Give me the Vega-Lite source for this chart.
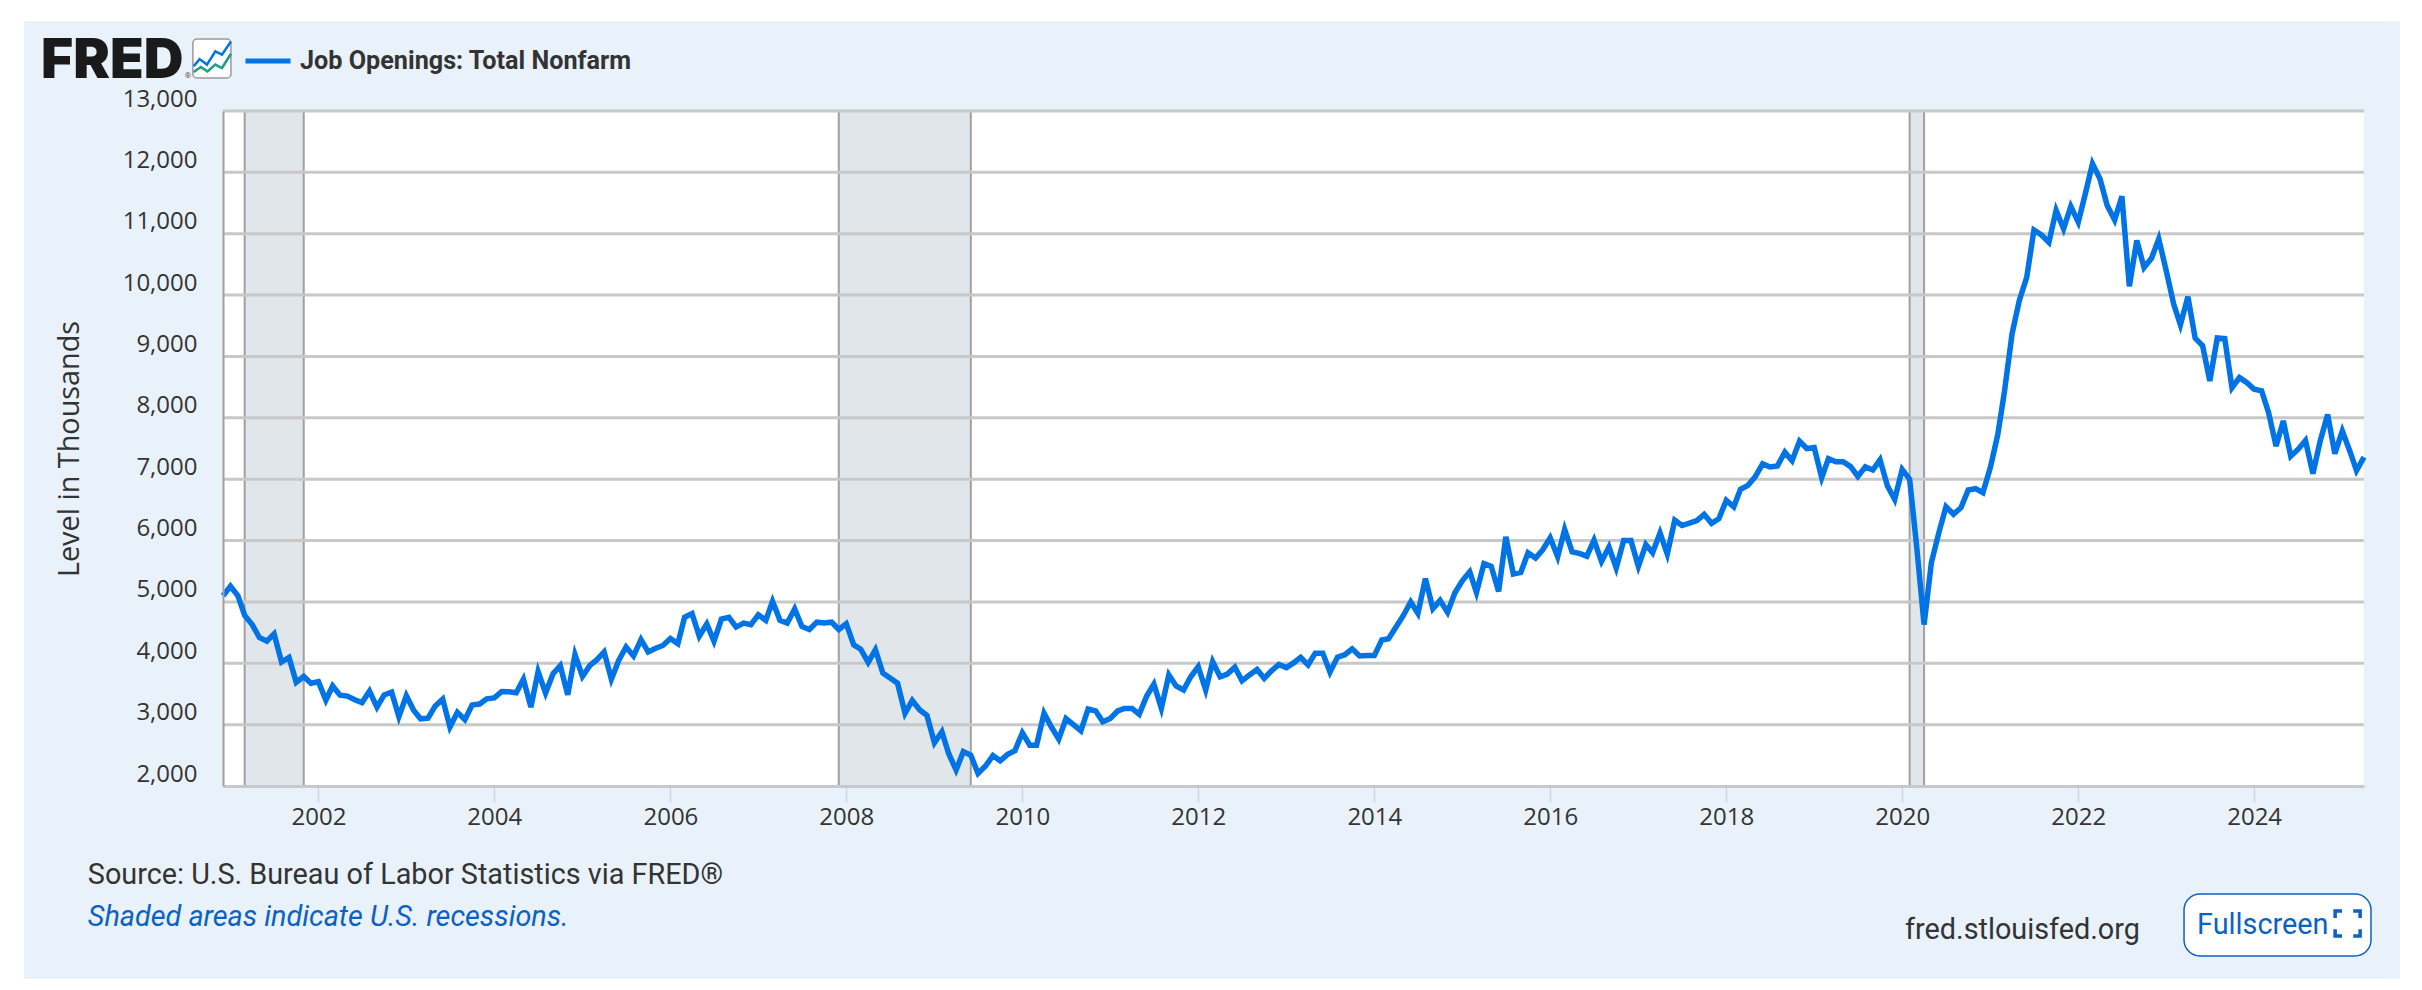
{
  "$schema": "https://vega.github.io/schema/vega-lite/v6.json",
  "width": 2141,
  "height": 675,
  "autosize": {"type": "none"},
  "padding": {"left": 223, "top": 111, "right": 58, "bottom": 204},
  "background": "white",
  "config": {"view": {"stroke": null}},
  "datasets": {
    "recessions": [
      {"start": "2001-03-01", "end": "2001-11-01"},
      {"start": "2007-12-01", "end": "2009-06-01"},
      {"start": "2020-02-01", "end": "2020-04-01"}
    ],
    "gridlines": [
      {"level": 3000}, {"level": 4000}, {"level": 5000}, {"level": 6000}, {"level": 7000},
      {"level": 8000}, {"level": 9000}, {"level": 10000}, {"level": 11000}, {"level": 12000}, {"level": 13000}
    ],
    "openings": [
      {"date":"2000-12-01","value":5100},
      {"date":"2001-01-01","value":5255},{"date":"2001-02-01","value":5100},{"date":"2001-03-01","value":4780},{"date":"2001-04-01","value":4630},{"date":"2001-05-01","value":4420},{"date":"2001-06-01","value":4360},{"date":"2001-07-01","value":4480},{"date":"2001-08-01","value":4020},{"date":"2001-09-01","value":4095},{"date":"2001-10-01","value":3690},{"date":"2001-11-01","value":3785},{"date":"2001-12-01","value":3675},
      {"date":"2002-01-01","value":3700},{"date":"2002-02-01","value":3400},{"date":"2002-03-01","value":3630},{"date":"2002-04-01","value":3480},{"date":"2002-05-01","value":3465},{"date":"2002-06-01","value":3405},{"date":"2002-07-01","value":3360},{"date":"2002-08-01","value":3545},{"date":"2002-09-01","value":3285},{"date":"2002-10-01","value":3485},{"date":"2002-11-01","value":3530},{"date":"2002-12-01","value":3130},
      {"date":"2003-01-01","value":3470},{"date":"2003-02-01","value":3230},{"date":"2003-03-01","value":3095},{"date":"2003-04-01","value":3105},{"date":"2003-05-01","value":3305},{"date":"2003-06-01","value":3415},{"date":"2003-07-01","value":2960},{"date":"2003-08-01","value":3200},{"date":"2003-09-01","value":3080},{"date":"2003-10-01","value":3320},{"date":"2003-11-01","value":3335},{"date":"2003-12-01","value":3420},
      {"date":"2004-01-01","value":3435},{"date":"2004-02-01","value":3540},{"date":"2004-03-01","value":3535},{"date":"2004-04-01","value":3520},{"date":"2004-05-01","value":3740},{"date":"2004-06-01","value":3285},{"date":"2004-07-01","value":3865},{"date":"2004-08-01","value":3515},{"date":"2004-09-01","value":3830},{"date":"2004-10-01","value":3960},{"date":"2004-11-01","value":3485},{"date":"2004-12-01","value":4140},
      {"date":"2005-01-01","value":3785},{"date":"2005-02-01","value":3965},{"date":"2005-03-01","value":4055},{"date":"2005-04-01","value":4185},{"date":"2005-05-01","value":3740},{"date":"2005-06-01","value":4050},{"date":"2005-07-01","value":4265},{"date":"2005-08-01","value":4120},{"date":"2005-09-01","value":4385},{"date":"2005-10-01","value":4185},{"date":"2005-11-01","value":4245},{"date":"2005-12-01","value":4290},
      {"date":"2006-01-01","value":4405},{"date":"2006-02-01","value":4320},{"date":"2006-03-01","value":4750},{"date":"2006-04-01","value":4810},{"date":"2006-05-01","value":4440},{"date":"2006-06-01","value":4640},{"date":"2006-07-01","value":4360},{"date":"2006-08-01","value":4720},{"date":"2006-09-01","value":4750},{"date":"2006-10-01","value":4590},{"date":"2006-11-01","value":4655},{"date":"2006-12-01","value":4630},
      {"date":"2007-01-01","value":4790},{"date":"2007-02-01","value":4700},{"date":"2007-03-01","value":5010},{"date":"2007-04-01","value":4700},{"date":"2007-05-01","value":4655},{"date":"2007-06-01","value":4885},{"date":"2007-07-01","value":4600},{"date":"2007-08-01","value":4550},{"date":"2007-09-01","value":4670},{"date":"2007-10-01","value":4655},{"date":"2007-11-01","value":4670},{"date":"2007-12-01","value":4550},
      {"date":"2008-01-01","value":4645},{"date":"2008-02-01","value":4300},{"date":"2008-03-01","value":4230},{"date":"2008-04-01","value":4015},{"date":"2008-05-01","value":4220},{"date":"2008-06-01","value":3840},{"date":"2008-07-01","value":3760},{"date":"2008-08-01","value":3675},{"date":"2008-09-01","value":3185},{"date":"2008-10-01","value":3395},{"date":"2008-11-01","value":3240},{"date":"2008-12-01","value":3150},
      {"date":"2009-01-01","value":2705},{"date":"2009-02-01","value":2885},{"date":"2009-03-01","value":2530},{"date":"2009-04-01","value":2260},{"date":"2009-05-01","value":2560},{"date":"2009-06-01","value":2500},{"date":"2009-07-01","value":2205},{"date":"2009-08-01","value":2325},{"date":"2009-09-01","value":2495},{"date":"2009-10-01","value":2410},{"date":"2009-11-01","value":2515},{"date":"2009-12-01","value":2575},
      {"date":"2010-01-01","value":2867},{"date":"2010-02-01","value":2665},{"date":"2010-03-01","value":2665},{"date":"2010-04-01","value":3185},{"date":"2010-05-01","value":2965},{"date":"2010-06-01","value":2765},{"date":"2010-07-01","value":3100},{"date":"2010-08-01","value":3000},{"date":"2010-09-01","value":2900},{"date":"2010-10-01","value":3255},{"date":"2010-11-01","value":3225},{"date":"2010-12-01","value":3045},
      {"date":"2011-01-01","value":3100},{"date":"2011-02-01","value":3225},{"date":"2011-03-01","value":3265},{"date":"2011-04-01","value":3265},{"date":"2011-05-01","value":3170},{"date":"2011-06-01","value":3465},{"date":"2011-07-01","value":3660},{"date":"2011-08-01","value":3265},{"date":"2011-09-01","value":3810},{"date":"2011-10-01","value":3630},{"date":"2011-11-01","value":3565},{"date":"2011-12-01","value":3780},
      {"date":"2012-01-01","value":3945},{"date":"2012-02-01","value":3565},{"date":"2012-03-01","value":4025},{"date":"2012-04-01","value":3780},{"date":"2012-05-01","value":3825},{"date":"2012-06-01","value":3935},{"date":"2012-07-01","value":3715},{"date":"2012-08-01","value":3810},{"date":"2012-09-01","value":3900},{"date":"2012-10-01","value":3755},{"date":"2012-11-01","value":3880},{"date":"2012-12-01","value":3980},
      {"date":"2013-01-01","value":3930},{"date":"2013-02-01","value":4010},{"date":"2013-03-01","value":4095},{"date":"2013-04-01","value":3975},{"date":"2013-05-01","value":4165},{"date":"2013-06-01","value":4165},{"date":"2013-07-01","value":3855},{"date":"2013-08-01","value":4100},{"date":"2013-09-01","value":4140},{"date":"2013-10-01","value":4235},{"date":"2013-11-01","value":4120},{"date":"2013-12-01","value":4125},
      {"date":"2014-01-01","value":4125},{"date":"2014-02-01","value":4380},{"date":"2014-03-01","value":4400},{"date":"2014-04-01","value":4590},{"date":"2014-05-01","value":4775},{"date":"2014-06-01","value":5000},{"date":"2014-07-01","value":4815},{"date":"2014-08-01","value":5380},{"date":"2014-09-01","value":4890},{"date":"2014-10-01","value":5025},{"date":"2014-11-01","value":4830},{"date":"2014-12-01","value":5145},
      {"date":"2015-01-01","value":5345},{"date":"2015-02-01","value":5490},{"date":"2015-03-01","value":5155},{"date":"2015-04-01","value":5625},{"date":"2015-05-01","value":5580},{"date":"2015-06-01","value":5170},{"date":"2015-07-01","value":6060},{"date":"2015-08-01","value":5455},{"date":"2015-09-01","value":5480},{"date":"2015-10-01","value":5800},{"date":"2015-11-01","value":5715},{"date":"2015-12-01","value":5850},
      {"date":"2016-01-01","value":6045},{"date":"2016-02-01","value":5735},{"date":"2016-03-01","value":6180},{"date":"2016-04-01","value":5815},{"date":"2016-05-01","value":5790},{"date":"2016-06-01","value":5745},{"date":"2016-07-01","value":6005},{"date":"2016-08-01","value":5660},{"date":"2016-09-01","value":5895},{"date":"2016-10-01","value":5555},{"date":"2016-11-01","value":6000},{"date":"2016-12-01","value":6000},
      {"date":"2017-01-01","value":5580},{"date":"2017-02-01","value":5935},{"date":"2017-03-01","value":5800},{"date":"2017-04-01","value":6125},{"date":"2017-05-01","value":5780},{"date":"2017-06-01","value":6330},{"date":"2017-07-01","value":6245},{"date":"2017-08-01","value":6285},{"date":"2017-09-01","value":6325},{"date":"2017-10-01","value":6425},{"date":"2017-11-01","value":6280},{"date":"2017-12-01","value":6355},
      {"date":"2018-01-01","value":6655},{"date":"2018-02-01","value":6550},{"date":"2018-03-01","value":6835},{"date":"2018-04-01","value":6900},{"date":"2018-05-01","value":7040},{"date":"2018-06-01","value":7250},{"date":"2018-07-01","value":7200},{"date":"2018-08-01","value":7215},{"date":"2018-09-01","value":7440},{"date":"2018-10-01","value":7300},{"date":"2018-11-01","value":7620},{"date":"2018-12-01","value":7500},
      {"date":"2019-01-01","value":7515},{"date":"2019-02-01","value":7025},{"date":"2019-03-01","value":7335},{"date":"2019-04-01","value":7285},{"date":"2019-05-01","value":7285},{"date":"2019-06-01","value":7205},{"date":"2019-07-01","value":7045},{"date":"2019-08-01","value":7200},{"date":"2019-09-01","value":7150},{"date":"2019-10-01","value":7315},{"date":"2019-11-01","value":6890},{"date":"2019-12-01","value":6670},
      {"date":"2020-01-01","value":7160},{"date":"2020-02-01","value":7000},{"date":"2020-03-01","value":5910},{"date":"2020-04-01","value":4630},{"date":"2020-05-01","value":5635},{"date":"2020-06-01","value":6125},{"date":"2020-07-01","value":6550},{"date":"2020-08-01","value":6430},{"date":"2020-09-01","value":6535},{"date":"2020-10-01","value":6825},{"date":"2020-11-01","value":6845},{"date":"2020-12-01","value":6780},
      {"date":"2021-01-01","value":7190},{"date":"2021-02-01","value":7730},{"date":"2021-03-01","value":8440},{"date":"2021-04-01","value":9365},{"date":"2021-05-01","value":9910},{"date":"2021-06-01","value":10290},{"date":"2021-07-01","value":11060},{"date":"2021-08-01","value":10980},{"date":"2021-09-01","value":10860},{"date":"2021-10-01","value":11380},{"date":"2021-11-01","value":11080},{"date":"2021-12-01","value":11445},
      {"date":"2022-01-01","value":11190},{"date":"2022-02-01","value":11680},{"date":"2022-03-01","value":12140},{"date":"2022-04-01","value":11895},{"date":"2022-05-01","value":11460},{"date":"2022-06-01","value":11225},{"date":"2022-07-01","value":11610},{"date":"2022-08-01","value":10145},{"date":"2022-09-01","value":10890},{"date":"2022-10-01","value":10450},{"date":"2022-11-01","value":10600},{"date":"2022-12-01","value":10915},
      {"date":"2023-01-01","value":10400},{"date":"2023-02-01","value":9855},{"date":"2023-03-01","value":9515},{"date":"2023-04-01","value":9975},{"date":"2023-05-01","value":9300},{"date":"2023-06-01","value":9175},{"date":"2023-07-01","value":8600},{"date":"2023-08-01","value":9300},{"date":"2023-09-01","value":9290},{"date":"2023-10-01","value":8490},{"date":"2023-11-01","value":8655},{"date":"2023-12-01","value":8575},
      {"date":"2024-01-01","value":8465},{"date":"2024-02-01","value":8440},{"date":"2024-03-01","value":8085},{"date":"2024-04-01","value":7540},{"date":"2024-05-01","value":7950},{"date":"2024-06-01","value":7375},{"date":"2024-07-01","value":7485},{"date":"2024-08-01","value":7630},{"date":"2024-09-01","value":7090},{"date":"2024-10-01","value":7620},{"date":"2024-11-01","value":8055},{"date":"2024-12-01","value":7415},
      {"date":"2025-01-01","value":7785},{"date":"2025-02-01","value":7460},{"date":"2025-03-01","value":7140},{"date":"2025-04-01","value":7360}
    ]
  },
  "layer": [
    {
      "data": {"values": [{"item": "panel"}]},
      "mark": {"type": "rect", "color": "#e9f1fb"},
      "encoding": {
        "x": {"datum": {"year": 1998, "month": 8, "date": 28}, "type": "temporal"},
        "x2": {"datum": {"year": 2025, "month": 8, "date": 28}},
        "y": {"datum": 14467, "type": "quantitative"},
        "y2": {"datum": -1145}
      }
    },
    {
      "data": {"values": [{"item": "plot"}]},
      "mark": {"type": "rect", "color": "white"},
      "encoding": {
        "x": {"datum": {"year": 2000, "month": 12, "date": 1}, "type": "temporal"},
        "x2": {"datum": {"year": 2025, "month": 4, "date": 1}},
        "y": {"datum": 2000, "type": "quantitative"},
        "y2": {"datum": 13000}
      }
    },
    {
      "data": {"name": "recessions"},
      "mark": {"type": "rect", "color": "#e1e6eb"},
      "encoding": {
        "x": {"field": "start", "type": "temporal"},
        "x2": {"field": "end"}
      }
    },
    {
      "data": {"name": "recessions"},
      "mark": {"type": "rule", "color": "#a0a0a0", "strokeWidth": 2},
      "encoding": {"x": {"field": "start", "type": "temporal"}}
    },
    {
      "data": {"name": "recessions"},
      "mark": {"type": "rule", "color": "#a0a0a0", "strokeWidth": 2},
      "encoding": {"x": {"field": "end", "type": "temporal"}}
    },
    {
      "data": {"name": "gridlines"},
      "mark": {"type": "rule", "color": "#c8c8c8", "strokeWidth": 3},
      "encoding": {"y": {"field": "level", "type": "quantitative"}}
    },
    {
      "data": {"name": "openings"},
      "mark": {"type": "line", "strokeWidth": 5.5, "strokeJoin": "miter"},
      "encoding": {
        "x": {
          "field": "date",
          "type": "temporal",
          "scale": {"domain": ["2000-12-01", "2025-04-01"], "nice": false},
          "axis": {
            "title": null,
            "format": "%Y",
            "tickCount": {"interval": "year", "step": 2},
            "grid": false,
            "zindex": 1,
            "domainColor": "#c6c8cf",
            "domainWidth": 3,
            "tickColor": "#ccd6eb",
            "tickWidth": 1.5,
            "tickSize": 16,
            "labelPadding": 3,
            "labelFont": "Open Sans",
            "labelFontSize": 24,
            "labelColor": "#333333",
            "labelFlush": false,
            "labelOverlap": false
          }
        },
        "y": {
          "field": "value",
          "type": "quantitative",
          "scale": {"domain": [2000, 13000], "nice": false, "zero": false},
          "axis": {
            "title": "Level in Thousands",
            "titleFont": "Open Sans",
            "titleFontSize": 28.8,
            "titleFontWeight": "normal",
            "titleColor": "#333333",
            "titleX": -139,
            "format": ",d",
            "values": [2000, 3000, 4000, 5000, 6000, 7000, 8000, 9000, 10000, 11000, 12000, 13000],
            "grid": false,
            "zindex": 1,
            "domainColor": "#a0a0a0",
            "domainWidth": 2,
            "ticks": false,
            "labelPadding": 26,
            "labelOffset": -12,
            "labelFont": "Open Sans",
            "labelFontSize": 24,
            "labelColor": "#333333"
          }
        },
        "color": {
          "datum": "Job Openings: Total Nonfarm",
          "scale": {"range": ["#0073e6"]},
          "legend": {
            "orient": "none",
            "legendX": 20,
            "legendY": -75,
            "title": null,
            "symbolType": "stroke",
            "symbolSize": 2025,
            "symbolStrokeWidth": 5,
            "labelFont": "Roboto",
            "labelFontSize": 25.2,
            "labelFontWeight": "bold",
            "labelColor": "#333333",
            "labelOffset": 7,
            "labelLimit": 600
          }
        }
      }
    },
    {
      "data": {"values": [{"label": "FRED"}]},
      "mark": {"type": "text", "align": "left", "baseline": "alphabetic", "font": "Inter", "fontWeight": 900, "fontSize": 55, "color": "#1a1a1a"},
      "encoding": {
        "x": {"datum": {"year": 1998, "month": 11, "date": 7}, "type": "temporal"},
        "y": {"datum": 13538, "type": "quantitative"},
        "text": {"field": "label"}
      }
    },
    {
      "data": {"values": [{"label": "®"}]},
      "mark": {"type": "text", "align": "left", "baseline": "alphabetic", "font": "Roboto", "fontSize": 8, "color": "#555555"},
      "encoding": {
        "x": {"datum": {"year": 2000, "month": 6, "date": 25}, "type": "temporal"},
        "y": {"datum": 13538, "type": "quantitative"},
        "text": {"field": "label"}
      }
    },
    {
      "data": {"values": [{"item": "logo box"}]},
      "mark": {"type": "rect", "fill": "white", "stroke": "#9a9a9a", "strokeWidth": 1.5, "cornerRadius": 4},
      "encoding": {
        "x": {"datum": {"year": 2000, "month": 7, "date": 29}, "type": "temporal"},
        "x2": {"datum": {"year": 2001, "month": 1, "date": 3}},
        "y": {"datum": 14173, "type": "quantitative"},
        "y2": {"datum": 13538}
      }
    },
    {
      "data": {"values": [{"item": "logo blue"}]},
      "mark": {"type": "point", "shape": "M-0.96,0.41L-0.65,0.03L-0.26,0.32L0.18,-0.38L0.53,-0.2L1,-0.9", "size": 1444, "filled": false, "stroke": "#0073e6", "strokeWidth": 2.5, "opacity": 1},
      "encoding": {
        "x": {"datum": {"year": 2000, "month": 10, "date": 16}, "type": "temporal"},
        "y": {"datum": 13855, "type": "quantitative"}
      }
    },
    {
      "data": {"values": [{"item": "logo green"}]},
      "mark": {"type": "point", "shape": "M-0.96,0.71L-0.58,0.45L-0.23,0.68L0.18,0.32L0.53,0.5L1,-0.25", "size": 1444, "filled": false, "stroke": "#1f9e84", "strokeWidth": 2.5, "opacity": 1},
      "encoding": {
        "x": {"datum": {"year": 2000, "month": 10, "date": 16}, "type": "temporal"},
        "y": {"datum": 13855, "type": "quantitative"}
      }
    },
    {
      "data": {"values": [{"label": "Source: U.S. Bureau of Labor Statistics via FRED®"}]},
      "mark": {"type": "text", "align": "left", "baseline": "alphabetic", "font": "Roboto", "fontSize": 28.8, "color": "#333333"},
      "encoding": {
        "x": {"datum": {"year": 1999, "month": 5, "date": 20}, "type": "temporal"},
        "y": {"datum": 400, "type": "quantitative"},
        "text": {"field": "label"}
      }
    },
    {
      "data": {"values": [{"label": "Shaded areas indicate U.S. recessions."}]},
      "mark": {"type": "text", "align": "left", "baseline": "alphabetic", "font": "Roboto", "fontSize": 28.8, "fontStyle": "italic", "color": "#0b62c4"},
      "encoding": {
        "x": {"datum": {"year": 1999, "month": 5, "date": 20}, "type": "temporal"},
        "y": {"datum": -281, "type": "quantitative"},
        "text": {"field": "label"}
      }
    },
    {
      "data": {"values": [{"label": "fred.stlouisfed.org"}]},
      "mark": {"type": "text", "align": "right", "baseline": "alphabetic", "font": "Roboto", "fontSize": 28.8, "color": "#333333"},
      "encoding": {
        "x": {"datum": {"year": 2022, "month": 9, "date": 14}, "type": "temporal"},
        "y": {"datum": -493, "type": "quantitative"},
        "text": {"field": "label"}
      }
    },
    {
      "data": {"values": [{"item": "button"}]},
      "mark": {"type": "rect", "fill": "white", "stroke": "#0b62c4", "strokeWidth": 1.5, "cornerRadius": 16},
      "encoding": {
        "x": {"datum": {"year": 2023, "month": 3, "date": 16}, "type": "temporal"},
        "x2": {"datum": {"year": 2025, "month": 4, "date": 30}},
        "y": {"datum": 240, "type": "quantitative"},
        "y2": {"datum": -770}
      }
    },
    {
      "data": {"values": [{"label": "Fullscreen"}]},
      "mark": {"type": "text", "align": "left", "baseline": "alphabetic", "font": "Roboto", "fontSize": 28.8, "color": "#0b62c4"},
      "encoding": {
        "x": {"datum": {"year": 2023, "month": 5, "date": 9}, "type": "temporal"},
        "y": {"datum": -412, "type": "quantitative"},
        "text": {"field": "label"}
      }
    },
    {
      "data": {"values": [{"item": "fullscreen icon"}]},
      "mark": {"type": "point", "shape": "M-1,-0.45V-1H-0.45M0.45,-1H1V-0.45M1,0.45V1H0.45M-0.45,1H-1V0.45", "size": 625, "filled": false, "stroke": "#0b62c4", "strokeWidth": 3.5, "opacity": 1},
      "encoding": {
        "x": {"datum": {"year": 2025, "month": 1, "date": 23}, "type": "temporal"},
        "y": {"datum": -241, "type": "quantitative"}
      }
    }
  ]
}
